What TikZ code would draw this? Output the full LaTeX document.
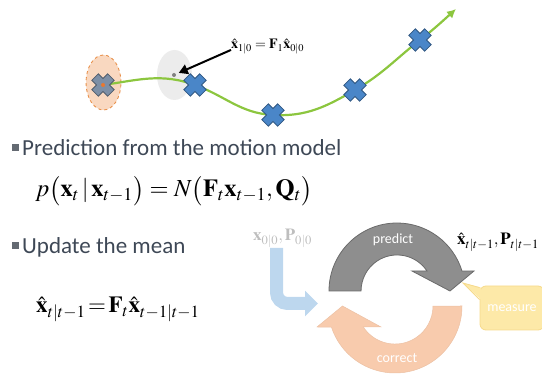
\documentclass[tikz,border=0pt]{standalone}
\usepackage{mathptmx}
\usepackage[no-math]{fontspec}
\setsansfont{Carlito}
\usetikzlibrary{arrows.meta,positioning,shapes.geometric}
\definecolor{trackgreen}{RGB}{140,198,63}
\definecolor{crossblue}{RGB}{74,134,200}
\definecolor{crossgray}{RGB}{125,143,166}
\definecolor{dotorange}{RGB}{232,120,48}
\definecolor{priorfill}{RGB}{249,216,192}
\definecolor{priorline}{RGB}{232,144,74}
\definecolor{predfill}{RGB}{236,236,236}
\definecolor{textgray}{RGB}{62,72,86}
\definecolor{bulletgray}{RGB}{100,106,114}
\definecolor{arcgray}{RGB}{142,142,142}
\definecolor{arcsalmon}{RGB}{248,203,173}
\definecolor{initblue}{RGB}{189,215,238}
\definecolor{measfill}{RGB}{253,233,168}
\definecolor{measline}{RGB}{246,218,140}
\definecolor{fadedgray}{RGB}{190,190,190}
\begin{document}
\begin{tikzpicture}[x=1pt, y=-1pt,
    xmark/.style={minimum size=26pt, inner sep=0pt, path picture={
        \filldraw[fill=#1, draw=#1!65!black, line width=0.8pt,
            shift={(path picture bounding box.center)}]
            (4.7,-11.2) -- (11.2,-4.7) -- (6.5,0) -- (11.2,4.7) -- (4.7,11.2) -- (0,6.5)
            -- (-4.7,11.2) -- (-11.2,4.7) -- (-6.5,0) -- (-11.2,-4.7) -- (-4.7,-11.2) -- (0,-6.5) -- cycle;}},
    itemtext/.style={anchor=base west, inner sep=0pt, text=textgray, font=\sffamily\fontsize{23}{27}\selectfont},
    bullet/.style={rectangle, fill=bulletgray, minimum size=7pt, inner sep=0pt},
    mathtext/.style={anchor=base west, inner sep=0pt},
    steplabel/.style={text=white, inner sep=0pt, font=\sffamily\fontsize{14}{16}\selectfont},
]
\useasboundingbox (0,0) rectangle (542,374);

% Track with the states
\node[ellipse, draw=priorline, dashed, line width=0.9pt, fill=priorfill, minimum width=35pt, minimum height=55pt] (prior) at (103.5,82.5) {};
\node[ellipse, fill=predfill, minimum width=35pt, minimum height=50pt] (predcloud) at (174.5,75) {};
\coordinate (p0) at (103,85);
\coordinate (p1) at (195,85);
\coordinate (p2) at (273,115);
\coordinate (p3) at (355,90);
\coordinate (p4) at (420,40);
\coordinate (pend) at (456,9);
\draw[trackgreen, line width=2.2pt, -{Latex[length=9pt,width=9pt]}]
    (p0) to[out=8,in=160] (p1) to[out=-20,in=177] (p2) to[out=-3,in=210] (p3)
    to[out=30,in=218] (p4) to[out=38,in=222] (pend);
\node[xmark=crossgray] (x0) at (p0) {};
\node[circle, fill=dotorange, minimum size=4pt, inner sep=0pt] (x0dot) at (p0) {};
\node[xmark=crossblue] (x1) at (p1) {};
\node[xmark=crossblue] (x2) at (p2) {};
\node[xmark=crossblue] (x3) at (p3) {};
\node[xmark=crossblue] (x4) at (p4) {};
\node[circle, fill=gray, minimum size=4pt, inner sep=0pt] (preddot) at (174,75) {};

% Prediction label
\node[mathtext, font=\fontsize{14}{16}\selectfont] (predlbl) at (231,49) {$\hat{\mathbf{x}}_{1|0}=\mathbf{F}_1\hat{\mathbf{x}}_{0|0}$};
\draw[line width=2pt, -{Triangle[length=9pt,width=10pt]}, shorten >=3pt] ([yshift=-3pt]predlbl.west) -- (preddot);

% Bullet items
\node[bullet] (b1) at (15.5,148) {};
\node[itemtext] (t1) at (22,156) {Prediction from the motion model};
\node[mathtext, font=\fontsize{24.5}{28}\selectfont] (eq1) at (35,197) {$p\bigl(\mathbf{x}_t\,|\,\mathbf{x}_{t-1}\bigr)=N\bigl(\mathbf{F}_t\mathbf{x}_{t-1},\mathbf{Q}_t\bigr)$};
\node[bullet] (b2) at (15.5,246) {};
\node[itemtext] (t2) at (22,254) {Update the mean};
\node[mathtext, font=\fontsize{23}{27}\selectfont] (eq2) at (36,313) {$\hat{\mathbf{x}}_{t|t-1}\!=\!\mathbf{F}_t\hat{\mathbf{x}}_{t-1|t-1}$};

% Cycle
\node[mathtext, text=fadedgray, font=\fontsize{17}{20}\selectfont] (init) at (253,241) {$\mathbf{x}_{0|0},\mathbf{P}_{0|0}$};
\coordinate (cyclein) at (318,303.5);
\draw[initblue, line width=13pt, rounded corners=11pt, -{Triangle[length=13pt,width=25pt]}] (276.5,248) |- (cyclein);
\filldraw[fill=arcgray, draw=arcgray!75!black, line width=0.8pt]
    (397,291) ++(180:68) arc[start angle=180, end angle=342.9, radius=68]
    -- (474,271) -- (450,291) -- (412,271) -- (427,271)
    arc[start angle=326.3, end angle=180, radius=36] -- cycle;
\filldraw[fill=arcsalmon, draw=arcsalmon!95!black, line width=0.5pt]
    (395,306) ++(0:67) arc[start angle=0, end angle=161.7, radius=67]
    -- (317,327) -- (342.5,306) -- (381,327) -- (363.3,327)
    arc[start angle=146.5, end angle=0, radius=38] -- cycle;
\node[steplabel] (predict) at (393,240) {predict};
\node[steplabel] (correct) at (397,358) {correct};
\node[mathtext, font=\fontsize{17}{20}\selectfont] (predstate) at (457,245) {$\hat{\mathbf{x}}_{t|t-1},\mathbf{P}_{t|t-1}$};
\node[rectangle, rounded corners=6pt, fill=measfill, draw=measline, line width=0.8pt, minimum width=64pt, minimum height=44pt] (meas) at (512,308) {};
\fill[measfill] ([xshift=1.5pt,yshift=-2pt]meas.north west) -- (463,283) -- ([xshift=1.5pt,yshift=-14pt]meas.north west) -- cycle;
\draw[measline, line width=0.8pt] ([yshift=-2pt]meas.north west) -- (463,283) -- ([yshift=-14pt]meas.north west);
\node[steplabel] (measure) at (meas) {measure};
\end{tikzpicture}
\end{document}
